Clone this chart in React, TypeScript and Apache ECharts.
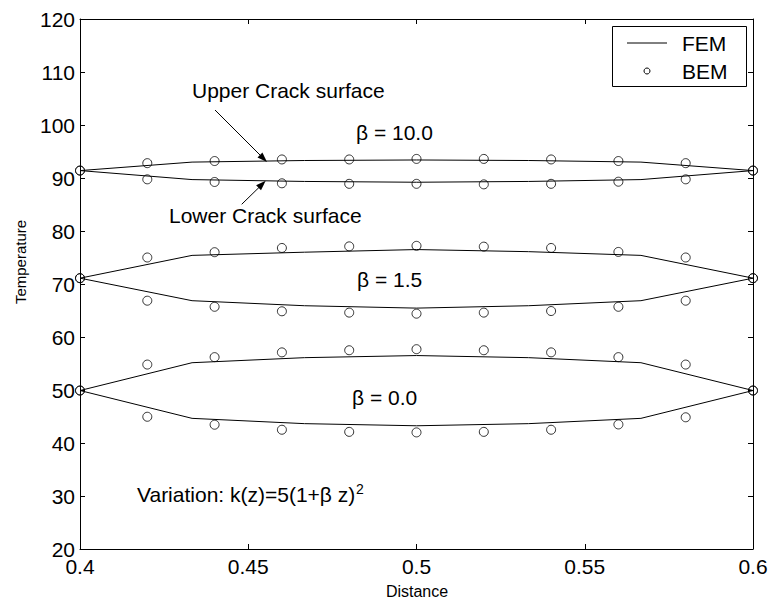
import React, { useEffect, useRef } from "react";
import * as echarts from "echarts";

const femX = [0.4, 0.4333, 0.4667, 0.5, 0.5333, 0.5667, 0.6];
const bemX = [0.4, 0.42, 0.44, 0.46, 0.48, 0.5, 0.52, 0.54, 0.56, 0.58, 0.6];

const fem10Upper = [91.4, 93.0, 93.3, 93.4, 93.3, 93.0, 91.4];
const fem10Lower = [91.4, 89.7, 89.35, 89.2, 89.35, 89.7, 91.4];
const fem15Upper = [71.1, 75.4, 76.0, 76.5, 76.1, 75.4, 71.1];
const fem15Lower = [71.1, 66.85, 65.9, 65.45, 65.9, 66.85, 71.1];
const fem0Upper = [49.9, 55.15, 56.1, 56.5, 56.1, 55.15, 49.9];
const fem0Lower = [49.9, 44.65, 43.65, 43.25, 43.65, 44.65, 49.9];

const bem10Upper = [91.4, 92.8, 93.2, 93.5, 93.5, 93.6, 93.6, 93.5, 93.2, 92.8, 91.4];
const bem10Lower = [91.4, 89.75, 89.25, 89.0, 88.9, 88.9, 88.8, 88.9, 89.3, 89.75, 91.4];
const bem15Upper = [71.1, 75.0, 76.0, 76.8, 77.1, 77.2, 77.05, 76.8, 76.05, 75.0, 71.1];
const bem15Lower = [71.1, 66.85, 65.7, 64.85, 64.6, 64.4, 64.6, 64.9, 65.7, 66.85, 71.1];
const bem0Upper = [49.9, 54.8, 56.2, 57.1, 57.5, 57.7, 57.5, 57.1, 56.2, 54.8, 49.9];
const bem0Lower = [49.9, 44.95, 43.45, 42.5, 42.1, 42.0, 42.1, 42.5, 43.5, 44.85, 49.9];

const femSets = [fem10Upper, fem10Lower, fem15Upper, fem15Lower, fem0Upper, fem0Lower];
const bemSets = [bem10Upper, bem10Lower, bem15Upper, bem15Lower, bem0Upper, bem0Lower];

const FONT = "'Liberation Sans', Arial, Helvetica, sans-serif";

function pair(xs: number[], ys: number[]) {
  return xs.map((x, i) => [x, ys[i]]);
}

export default function App() {
  const ref = useRef<HTMLDivElement>(null);
  useEffect(() => {
    if (!ref.current) return;
    const chart = echarts.init(ref.current, undefined, { renderer: "svg" });
    const series: any[] = [];
    femSets.forEach((ys) => {
      series.push({
        type: "line",
        name: "FEM",
        data: pair(femX, ys),
        symbol: "none",
        lineStyle: { color: "#000", width: 1 },
        xAxisIndex: 0,
        yAxisIndex: 0,
        z: 2,
      });
    });
    bemSets.forEach((ys) => {
      series.push({
        type: "scatter",
        name: "BEM",
        data: pair(bemX, ys),
        symbol: "circle",
        symbolSize: 9,
        itemStyle: { color: "rgba(0,0,0,0)", borderColor: "#000", borderWidth: 1 },
        xAxisIndex: 0,
        yAxisIndex: 0,
        z: 3,
      });
    });

    const axisLine = { show: true, lineStyle: { color: "#000", width: 1 } };
    const tick = { show: true, inside: true, length: 5, lineStyle: { color: "#000", width: 1 } };
    const label = { color: "#000", fontSize: 21, fontFamily: FONT };

    const textStyle = (t: string, x: number, y: number, size = 21, align = "left") => ({
      type: "text",
      x,
      y,
      style: { text: t, fill: "#000", fontSize: size, fontFamily: FONT, align, verticalAlign: "middle" },
      z: 10,
    });

    chart.setOption({
      animation: false,
      grid: { left: 80, right: 18, top: 19, bottom: 54, containLabel: false },
      xAxis: [
        {
          type: "value",
          min: 0.4,
          max: 0.6,
          interval: 0.05,
          position: "bottom",
          axisLine,
          axisTick: tick,
          splitLine: { show: false },
          axisLabel: { ...label, margin: 7, formatter: (v: number) => String(+v.toFixed(2)) },
        },
        {
          type: "value",
          min: 0.4,
          max: 0.6,
          interval: 0.05,
          position: "top",
          axisLine,
          axisTick: tick,
          splitLine: { show: false },
          axisLabel: { show: false },
        },
      ],
      yAxis: [
        {
          type: "value",
          min: 20,
          max: 120,
          interval: 10,
          position: "left",
          axisLine,
          axisTick: tick,
          splitLine: { show: false },
          axisLabel: { ...label, margin: 5 },
        },
        {
          type: "value",
          min: 20,
          max: 120,
          interval: 10,
          position: "right",
          axisLine,
          axisTick: tick,
          splitLine: { show: false },
          axisLabel: { show: false },
        },
      ],
      series,
      graphic: [
        // axis titles
        textStyle("Distance", 417, 591, 16, "center"),
        {
          type: "text",
          x: 20,
          y: 262,
          rotation: Math.PI / 2,
          style: { text: "Temperature", fill: "#000", fontSize: 15, fontFamily: FONT, align: "center", verticalAlign: "middle" },
        },
        // annotations
        textStyle("Upper Crack surface", 192, 90),
        textStyle("Lower Crack surface", 169, 215),
        textStyle("\u03b2 = 10.0", 356, 132),
        textStyle("\u03b2 = 1.5", 357, 279),
        textStyle("\u03b2 = 0.0", 352, 397),
        textStyle("Variation: k(z)=5(1+\u03b2 z)", 137, 494),
        textStyle("2", 356, 489, 14),
        // arrows
        { type: "line", shape: { x1: 215, y1: 110, x2: 263, y2: 158 }, style: { stroke: "#000", lineWidth: 1 }, z: 10 },
        { type: "polygon", shape: { points: [[267, 162], [257.5, 157.4], [262.4, 152.4]] }, style: { fill: "#000" }, z: 10 },
        { type: "line", shape: { x1: 241.7, y1: 204.3, x2: 262, y2: 184.5 }, style: { stroke: "#000", lineWidth: 1 }, z: 10 },
        { type: "polygon", shape: { points: [[265.7, 180.7], [261.0, 190.2], [256.1, 185.2]] }, style: { fill: "#000" }, z: 10 },
        // legend
        { type: "rect", shape: { x: 612.5, y: 26.5, width: 134, height: 60 }, style: { fill: "#fff", stroke: "#000", lineWidth: 1 }, z: 20 },
        { type: "line", shape: { x1: 627, y1: 43, x2: 667, y2: 43 }, style: { stroke: "#000", lineWidth: 1 }, z: 21 },
        { type: "circle", shape: { cx: 647, cy: 71, r: 3 }, style: { fill: "none", stroke: "#000", lineWidth: 1 }, z: 21 },
        { ...textStyle("FEM", 682, 43), z: 21 },
        { ...textStyle("BEM", 682, 71), z: 21 },
      ],
    });
    return () => chart.dispose();
  }, []);
  return (
    <div
      ref={ref}
      style={{ position: "absolute", left: 0, top: 0, width: 771, height: 603, background: "#fff" }}
    />
  );
}
